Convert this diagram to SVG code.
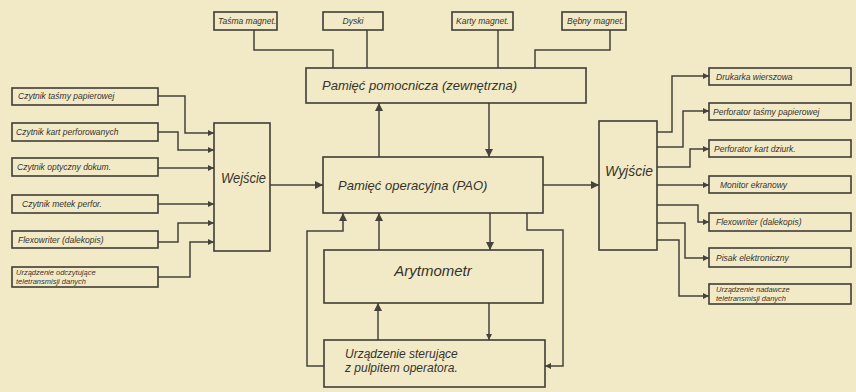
<svg xmlns="http://www.w3.org/2000/svg" width="856" height="392" viewBox="0 0 856 392">
<style>
.bg{fill:#f2eac6}
.box{fill:none;stroke:#3f3d36;stroke-width:1.6}
.ln{fill:none;stroke:#45433b;stroke-width:1.5}
.t{font-family:"Liberation Sans",Arial,sans-serif;font-style:italic;fill:#35332d}
.s{font-size:8.5px}
.m{font-size:13px}
.l{font-size:15px}
</style>
<defs>
<marker id="a" viewBox="0 0 10 10" refX="10" refY="5" markerWidth="8" markerHeight="6" orient="auto" markerUnits="userSpaceOnUse"><path d="M0,0 L10,5 L0,10 z" fill="#45433b"/></marker>
<marker id="b" viewBox="0 0 10 10" refX="10" refY="5" markerWidth="11" markerHeight="8" orient="auto" markerUnits="userSpaceOnUse"><path d="M0,0 L10,5 L0,10 z" fill="#45433b"/></marker>
</defs>
<rect class="bg" x="0" y="0" width="856" height="392"/>

<g id="connectors">
<polyline class="ln" points="254,30 254,50 333,50 333,68"/>
<polyline class="ln" points="367,30 367,68"/>
<polyline class="ln" points="498,30 498,68"/>
<polyline class="ln" points="610,30 610,50 535,50 535,68"/>
<line class="ln" x1="379" y1="157" x2="379" y2="103" marker-end="url(#b)"/>
<line class="ln" x1="489" y1="103" x2="489" y2="157" marker-end="url(#b)"/>
<polyline class="ln" points="158,96 185,96 185,133 214,133" marker-end="url(#a)"/>
<polyline class="ln" points="158,132 178,132 178,150 214,150" marker-end="url(#a)"/>
<polyline class="ln" points="158,168 214,168" marker-end="url(#a)"/>
<polyline class="ln" points="158,204 214,204" marker-end="url(#a)"/>
<polyline class="ln" points="158,242 178,242 178,223 214,223" marker-end="url(#a)"/>
<polyline class="ln" points="158,277 190,277 190,242 214,242" marker-end="url(#a)"/>
<line class="ln" x1="270" y1="185" x2="323" y2="185" marker-end="url(#b)"/>
<line class="ln" x1="543" y1="185" x2="599" y2="185" marker-end="url(#b)"/>
<polyline class="ln" points="657,132 672,132 672,76 709,76" marker-end="url(#a)"/>
<polyline class="ln" points="657,147 683,147 683,111 709,111" marker-end="url(#a)"/>
<polyline class="ln" points="657,167 690,167 690,149 709,149" marker-end="url(#a)"/>
<polyline class="ln" points="657,185 709,185" marker-end="url(#a)"/>
<polyline class="ln" points="657,205 698,205 698,222 709,222" marker-end="url(#a)"/>
<polyline class="ln" points="657,223 685,223 685,258 709,258" marker-end="url(#a)"/>
<polyline class="ln" points="657,240 679,240 679,296 709,296" marker-end="url(#a)"/>
<line class="ln" x1="490" y1="213" x2="490" y2="250" marker-end="url(#b)"/>
<line class="ln" x1="379" y1="250" x2="379" y2="213" marker-end="url(#b)"/>
<line class="ln" x1="378" y1="340" x2="378" y2="303" marker-end="url(#b)"/>
<line class="ln" x1="489" y1="303" x2="489" y2="340" marker-end="url(#a)"/>
<polyline class="ln" points="324,366 307,366 307,231 343,231 343,213" marker-end="url(#b)"/>
<polyline class="ln" points="527,213 527,230 563,230 563,366 545,366" marker-end="url(#a)"/>
</g>

<g id="tasma"><rect class="box" x="214" y="12" width="63" height="18"/><text class="t s" x="218" y="24">Taśma magnet.</text></g>
<g id="dyski"><rect class="box" x="323" y="12" width="60" height="18"/><text class="t s" x="353" y="24" text-anchor="middle">Dyski</text></g>
<g id="karty"><rect class="box" x="452" y="12" width="61" height="18"/><text class="t s" x="456" y="24">Karty magnet.</text></g>
<g id="bebny"><rect class="box" x="562" y="12" width="64" height="18"/><text class="t s" x="567" y="24">Bębny magnet.</text></g>

<g id="pomocnicza"><rect class="box" x="306" y="68" width="280" height="35"/><text class="t m" x="322" y="90">Pamięć pomocnicza (zewnętrzna)</text></g>
<g id="pao"><rect class="box" x="323" y="157" width="220" height="56"/><text class="t m" x="338" y="190">Pamięć operacyjna (PAO)</text></g>
<g id="wejscie"><rect class="box" x="214" y="123" width="56" height="128"/><text class="t" font-size="14" x="221" y="183" textLength="45" lengthAdjust="spacingAndGlyphs">Wejście</text></g>
<g id="wyjscie"><rect class="box" x="599" y="121" width="58" height="129"/><text class="t" font-size="14" x="605" y="176" textLength="48" lengthAdjust="spacingAndGlyphs">Wyjście</text></g>
<g id="arytmometr"><rect class="box" x="324" y="250" width="219" height="53"/><text class="t l" x="433" y="276" text-anchor="middle">Arytmometr</text></g>
<g id="sterujace"><rect class="box" x="324" y="340" width="221" height="47"/><text class="t" font-size="12" x="345" y="358">Urządzenie sterujące</text><text class="t" font-size="12" x="345" y="372">z pulpitem operatora.</text></g>

<g id="in1"><rect class="box" x="12" y="88" width="146" height="17"/><text class="t s" x="18" y="99">Czytnik taśmy papierowej</text></g>
<g id="in2"><rect class="box" x="12" y="123" width="146" height="18"/><text class="t s" x="16" y="135">Czytnik kart perforowanych</text></g>
<g id="in3"><rect class="box" x="12" y="158" width="146" height="18"/><text class="t s" x="17" y="170">Czytnik optyczny dokum.</text></g>
<g id="in4"><rect class="box" x="12" y="195" width="146" height="18"/><text class="t s" x="22" y="207">Czytnik metek perfor.</text></g>
<g id="in5"><rect class="box" x="12" y="231" width="146" height="17"/><text class="t s" x="18" y="243">Flexowriter (dalekopis)</text></g>
<g id="in6"><rect class="box" x="12" y="267" width="146" height="20"/><text class="t" font-size="7.5" x="16" y="275">Urządzenie odczytujące</text><text class="t" font-size="7.5" x="16" y="284">teletransmisji danych</text></g>

<g id="out1"><rect class="box" x="709" y="68" width="142" height="17"/><text class="t s" x="716" y="80">Drukarka wierszowa</text></g>
<g id="out2"><rect class="box" x="709" y="103" width="142" height="17"/><text class="t s" x="713" y="115">Perforator taśmy papierowej</text></g>
<g id="out3"><rect class="box" x="709" y="140" width="142" height="17"/><text class="t s" x="714" y="152">Perforator kart dziurk.</text></g>
<g id="out4"><rect class="box" x="709" y="176" width="142" height="17"/><text class="t s" x="720" y="188">Monitor ekranowy</text></g>
<g id="out5"><rect class="box" x="709" y="213" width="142" height="18"/><text class="t s" x="716" y="225">Flexowriter (dalekopis)</text></g>
<g id="out6"><rect class="box" x="709" y="248" width="142" height="19"/><text class="t s" x="716" y="261">Pisak elektroniczny</text></g>
<g id="out7"><rect class="box" x="709" y="284" width="142" height="20"/><text class="t" font-size="7.5" x="716" y="292">Urządzenie nadawcze</text><text class="t" font-size="7.5" x="716" y="301">teletransmisji danych</text></g>
</svg>
